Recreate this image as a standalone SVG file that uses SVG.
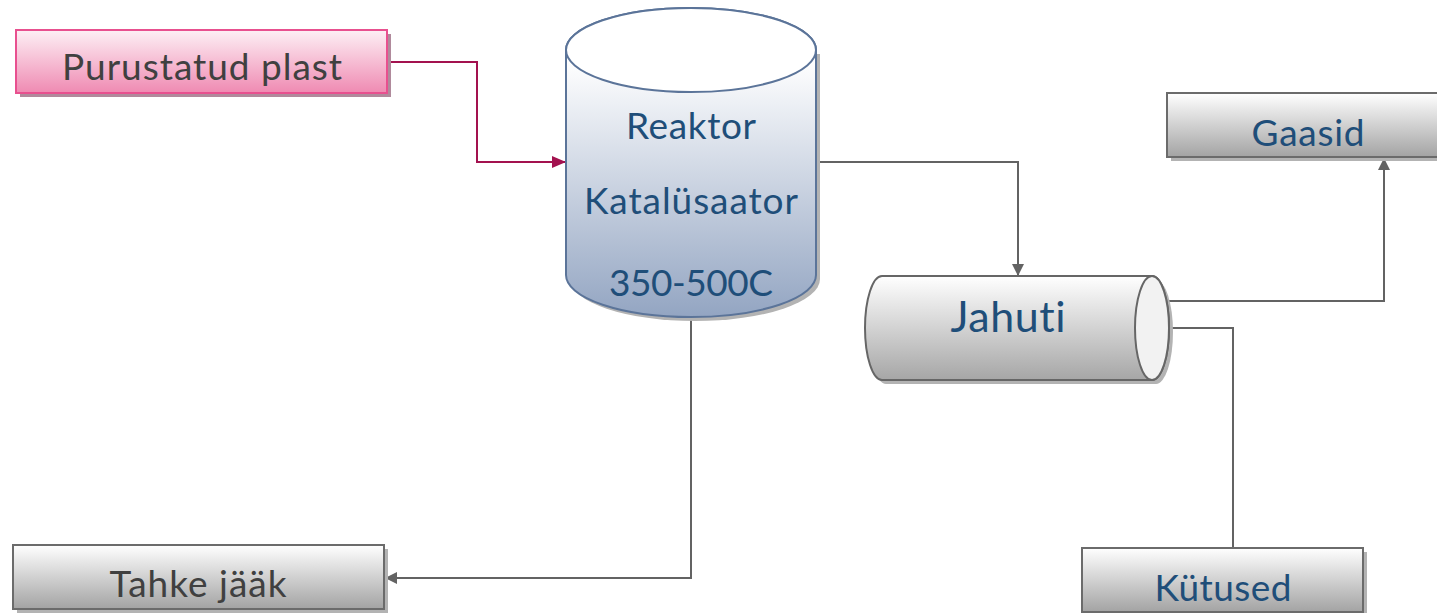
<svg xmlns="http://www.w3.org/2000/svg" width="1437" height="613" viewBox="0 0 1437 613">
  <style>
    .lbl { font-family: "Lato", "Liberation Sans", sans-serif; font-size: 37px; text-anchor: middle; font-variant-ligatures: none; }
    .dark { fill: #404040; }
    .blue { fill: #1f4e79; }
    .box { fill: url(#grayGrad); stroke: #6b6b6b; stroke-width: 2; }
    .shadow { fill: #b3b3b3; }
    .conn { fill: none; stroke: #636363; stroke-width: 2; }
    .connPink { fill: none; stroke: #a3124f; stroke-width: 2; }
  </style>
  <defs>
    <linearGradient id="grayGrad" x1="0" y1="0" x2="0" y2="1">
      <stop offset="0" stop-color="#ffffff"/>
      <stop offset="1" stop-color="#a3a3a3"/>
    </linearGradient>
    <linearGradient id="pinkGrad" x1="0" y1="0" x2="0" y2="1">
      <stop offset="0" stop-color="#fdf0f5"/>
      <stop offset="1" stop-color="#ef8ab2"/>
    </linearGradient>
    <linearGradient id="reactorGrad" gradientUnits="userSpaceOnUse" x1="0" y1="60" x2="0" y2="317">
      <stop offset="0" stop-color="#ffffff"/>
      <stop offset="1" stop-color="#93a5c2"/>
    </linearGradient>
    <linearGradient id="coolerGrad" gradientUnits="userSpaceOnUse" x1="0" y1="276" x2="0" y2="380">
      <stop offset="0" stop-color="#ffffff"/>
      <stop offset="1" stop-color="#a6a6a6"/>
    </linearGradient>
    <marker id="arrGray" viewBox="0 0 12 12" refX="12" refY="6" markerWidth="12" markerHeight="12" markerUnits="userSpaceOnUse" orient="auto">
      <path d="M0,0 L12,6 L0,12 Z" fill="#636363"/>
    </marker>
    <marker id="arrPink" viewBox="0 0 14 12" refX="14" refY="6" markerWidth="14" markerHeight="12" markerUnits="userSpaceOnUse" orient="auto">
      <path d="M0,0 L14,6 L0,12 Z" fill="#a3124f"/>
    </marker>
  </defs>

  <rect width="1437" height="613" fill="#ffffff"/>

  <!-- connectors -->
  <g id="connectors">
    <path class="connPink" d="M387,62 H477 V162 H566" marker-end="url(#arrPink)"/>
    <path class="conn" d="M816,162 H1018 V276" marker-end="url(#arrGray)"/>
    <path class="conn" d="M691,318 V578 H385" marker-end="url(#arrGray)"/>
    <path class="conn" d="M1168,301 H1384 V158" marker-end="url(#arrGray)"/>
    <path class="conn" d="M1168,328 H1233 V548"/>
  </g>

  <!-- input: shredded plastic -->
  <g id="purustatud">
    <rect x="20" y="34" width="371" height="63" fill="#b08a9c"/>
    <rect x="16" y="30" width="371" height="63" fill="url(#pinkGrad)" stroke="#e8508f" stroke-width="2"/>
    <text class="lbl dark" x="202" y="80" textLength="280">Purustatud plast</text>
  </g>

  <!-- reactor vessel -->
  <g id="reaktor">
    <path d="M570,54 V279 A125,42 0 0 0 820,279 V54 Z" class="shadow"/>
    <path d="M566,50 V275 A125,42 0 0 0 816,275 V50 A125,42 0 0 0 566,50 Z" fill="url(#reactorGrad)" stroke="#5b7499" stroke-width="2"/>
    <ellipse cx="691" cy="50" rx="125" ry="42" fill="#ffffff" stroke="#5b7499" stroke-width="2"/>
    <text class="lbl blue" x="691" y="139" textLength="130">Reaktor</text>
    <text class="lbl blue" x="691" y="214" textLength="214">Katalüsaator</text>
    <text class="lbl blue" x="691" y="296" textLength="164">350-500C</text>
  </g>

  <!-- cooler -->
  <g id="jahuti">
    <path d="M886,280 H1156 A17,52 0 0 1 1156,384 H886 A17,52 0 0 1 886,280 Z" class="shadow"/>
    <path d="M882,276 H1152 A17,52 0 0 1 1152,380 H882 A17,52 0 0 1 882,276 Z" fill="url(#coolerGrad)" stroke="#666666" stroke-width="2"/>
    <ellipse cx="1152" cy="328" rx="17" ry="52" fill="#f2f2f2" stroke="#666666" stroke-width="2"/>
    <text class="lbl blue" x="1008" y="332" style="font-size:43px" textLength="115">Jahuti</text>
  </g>

  <!-- gases output -->
  <g id="gaasid">
    <rect x="1171" y="97" width="282" height="64" class="shadow"/>
    <rect x="1167" y="93" width="282" height="64" class="box"/>
    <text class="lbl blue" x="1308" y="146" textLength="113">Gaasid</text>
  </g>

  <!-- solid residue output -->
  <g id="tahke">
    <rect x="17" y="549" width="371" height="64" class="shadow"/>
    <rect x="13" y="545" width="371" height="64" class="box"/>
    <text class="lbl dark" x="198" y="597" textLength="177">Tahke jääk</text>
  </g>

  <!-- fuels output -->
  <g id="kutused">
    <rect x="1086" y="552" width="281" height="64" class="shadow"/>
    <rect x="1082" y="548" width="281" height="64" class="box"/>
    <text class="lbl blue" x="1223" y="601" textLength="137">Kütused</text>
  </g>
</svg>
